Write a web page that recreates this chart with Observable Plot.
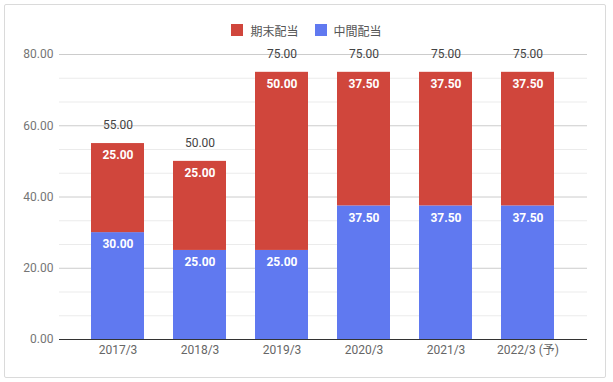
<!DOCTYPE html>
<html><head><meta charset="utf-8">
<script src="https://cdn.jsdelivr.net/npm/d3@7"></script>
<script src="https://cdn.jsdelivr.net/npm/@observablehq/plot@0.6"></script>
<style>
body{margin:0;background:#fff;font-family:Roboto,"Noto Sans CJK JP",sans-serif}
#wrap{position:relative;width:613px;height:382px;overflow:hidden}
#frame{position:absolute;left:4px;top:4px;width:602px;height:374px;box-sizing:border-box;border:1px solid #dadada;border-radius:2px;pointer-events:none}
#legend{position:relative;height:42px;width:613px}
#legend .items{position:absolute;top:22px;left:0;width:613px;height:16px;display:flex;justify-content:center;align-items:center;font-size:12px;color:#555}
#legend .sw{width:12px;height:12px;margin-right:7px;display:inline-block}
#legend .item{display:flex;align-items:center;margin:0 8px}
#chart svg{display:block}
</style></head>
<body>
<div id="wrap">
  <div id="legend"><div class="items" id="items"></div></div>
  <div id="chart"></div>
  <div id="frame"></div>
</div>
<script>
const categories = ["2017/3","2018/3","2019/3","2020/3","2021/3","2022/3 (予)"];
const interim = [30, 25, 25, 37.5, 37.5, 37.5];   // 中間配当
const yearEnd = [25, 25, 50, 37.5, 37.5, 37.5];   // 期末配当
const seriesNames = ["期末配当","中間配当"];
const seriesColors = ["#d0463c","#6079f0"];
const yTicks = [0, 20, 40, 60, 80];

const rows = [];
categories.forEach((c,i)=>rows.push({cat:c, series:"中間配当", value:interim[i]}));
categories.forEach((c,i)=>rows.push({cat:c, series:"期末配当", value:yearEnd[i]}));
const totals = categories.map((c,i)=>({cat:c, total: interim[i] + yearEnd[i]}));
const minorGrid = d3.range(0, 13).map(k => k * 80 / 12).filter(v => !yTicks.some(t => Math.abs(t - v) < 1e-6));

// legend
const items = document.getElementById("items");
seriesNames.forEach((n,i)=>{
  const it = document.createElement("div"); it.className="item";
  const sw = document.createElement("span"); sw.className="sw"; sw.style.background = seriesColors[i];
  const tx = document.createElement("span"); tx.textContent = n;
  it.appendChild(sw); it.appendChild(tx); items.appendChild(it);
});

const fmt = d3.format(".2f");
const chart = Plot.plot({
  width: 613, height: 340,
  marginLeft: 59, marginRight: 26, marginTop: 12, marginBottom: 43,
  style: {fontFamily: "Roboto, 'Noto Sans CJK JP', sans-serif", fontSize: "12px", background: "transparent"},
  x: {domain: categories, paddingInner: 0.348, paddingOuter: 0.357, label: null},
  y: {domain: [0, 80], label: null},
  color: {domain: seriesNames, range: seriesColors},
  marks: [
    Plot.ruleY(minorGrid, {stroke: "#ebebeb"}),
    Plot.ruleY(yTicks.filter(t => t > 0), {stroke: "#cccccc"}),
    Plot.barY(rows, {x: "cat", y: "value", z: "series", fill: "series"}),
    Plot.text(rows, Plot.stackY2({x: "cat", y: "value", z: "series", text: d => fmt(d.value), fill: "white", fontWeight: "bold", dy: 12})),
    Plot.text(totals, {x: "cat", y: "total", text: d => fmt(d.total), fill: "#444", dy: -18}),
    Plot.ruleY([0], {stroke: "#333"}),
    Plot.axisY(yTicks, {tickSize: 0, tickPadding: 6, tickFormat: fmt, fill: "#757575", label: null}),
    Plot.axisX({tickSize: 0, tickPadding: 6, fill: "#666", label: null})
  ]
});
document.getElementById("chart").appendChild(chart);
</script>
</body></html>
